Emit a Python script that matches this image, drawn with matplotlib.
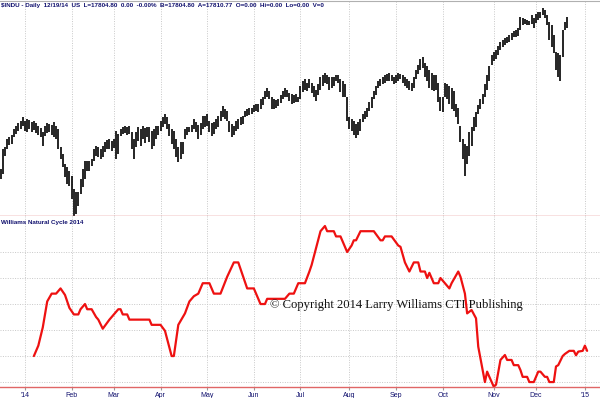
import matplotlib
matplotlib.use('Agg')
import matplotlib.pyplot as plt
import numpy as np
import pandas as pd

# ---------------- data ----------------
holidays = ['2013-12-25', '2014-01-01', '2014-01-20', '2014-02-17', '2014-04-18',
            '2014-05-26', '2014-07-04', '2014-09-01', '2014-11-27', '2014-12-25',
            '2015-01-01']

highs = [15930,16190,16215,16315,16340,16365,16440,16480,16520,16545,16595,
         16545,16570,16555,16530,16545,16520,16480,16455,16405,16480,
         16520,16505,16495,16530,16480,16440,16215,16125,15995,15960,
         15910,15845,15680,15640,15640,15805,15935,16035,16035,16035,
         16060,16190,16225,16215,16190,16225,16275,16300,16315,16290,
         16315,16415,16380,16440,16470,16480,16470,16480,16405,16315,
         16405,16470,16440,16480,16455,16470,16470,16415,16440,16480,
         16480,16545,16595,16635,16595,16505,16440,16415,16315,16215,
         16275,16275,16440,16470,16470,16495,16570,16530,16495,16520,
         16610,16610,16635,16545,16520,16530,16570,16610,16670,16735,
         16695,16670,16545,16505,16480,16545,16570,16595,16610,16670,
         16695,16710,16720,16750,16760,16760,16825,16860,16925,16975,
         16925,16850,16825,16810,16825,16875,16925,16975,16950,16910,
         16890,16875,16890,16860,16990,17055,17080,17030,17080,17030,
         16990,16950,17015,17105,17130,17165,17140,17115,17105,17115,
         17140,17130,17080,17055,17015,16860,16595,16570,16545,16505,
         16530,16570,16635,16670,16720,16785,16850,16925,16990,17055,
         17090,17115,17140,17155,17165,17140,17115,17130,17165,17155,
         17140,17105,17090,17055,17040,17105,17205,17270,17335,17360,
         17295,17245,17205,17165,17140,17130,17040,16860,16850,17040,
         17015,17000,16975,16925,16760,16720,16480,16315,16250,16225,
         16405,16470,16595,16660,16750,16825,16890,17015,17140,17245,
         17395,17435,17460,17510,17560,17590,17615,17625,17650,17675,
         17700,17715,17740,17880,17865,17855,17840,17830,17905,17865,
         17920,17945,17945,17995,17970,17905,17815,17780,17650,17435,
         17420,17395,17715,17815,17880]

lows = [15800,15870,16100,16190,16240,16250,16340,16380,16420,16440,16480,
        16420,16405,16440,16405,16430,16390,16365,16340,16225,16355,
        16390,16405,16365,16340,16315,16190,16060,15960,15830,15745,
        15720,15550,15335,15360,15465,15615,15705,15805,15905,15910,
        15970,16035,16100,16085,16060,16085,16150,16190,16190,16160,
        16200,16060,16125,16355,16380,16395,16365,16380,16190,16060,
        16215,16290,16225,16315,16265,16340,16275,16190,16225,16315,
        16365,16420,16465,16505,16440,16355,16250,16190,16085,16025,
        16060,16125,16315,16365,16405,16405,16440,16405,16315,16365,
        16440,16465,16480,16405,16355,16380,16440,16465,16545,16595,
        16570,16545,16405,16340,16365,16420,16440,16490,16505,16595,
        16610,16620,16635,16660,16670,16660,16695,16750,16825,16860,
        16825,16695,16695,16720,16735,16775,16825,16860,16850,16800,
        16760,16775,16785,16785,16825,16915,16950,16925,16975,16900,
        16860,16800,16875,16950,16990,17040,17015,16950,16975,16990,
        17055,17030,16915,16860,16850,16545,16440,16415,16365,16330,
        16365,16415,16530,16570,16595,16670,16720,16825,16875,16975,
        17000,17015,17040,17055,17065,17055,17015,17030,17055,17080,
        17030,16990,16975,16950,16925,16975,17080,17155,17205,17230,
        17105,17055,16975,16950,16925,16950,16785,16670,16660,16860,
        16825,16760,16695,16670,16595,16505,16275,16060,15845,15995,
        16100,16225,16415,16465,16635,16695,16760,16860,16950,17055,
        17270,17310,17335,17395,17460,17500,17525,17550,17560,17585,
        17625,17625,17640,17715,17780,17790,17780,17780,17790,17740,
        17805,17840,17865,17905,17865,17780,17585,17500,17420,17205,
        17115,17055,17360,17715,17740]

# Williams Natural Cycle: (trading-day number, value)
cycle_day = [15, 17, 19, 21, 23, 25, 27, 29, 31, 33, 35, 36, 38, 39, 41, 43, 44, 46, 49, 51,
             53, 54, 55, 57, 58, 67, 68, 72, 74, 77, 78, 80, 83, 85, 87, 89, 91, 94, 96, 99,
             102, 105, 107, 111, 114, 117, 119, 120, 128, 130, 132, 134, 137, 139, 140, 142,
             144, 146, 147, 150, 151, 153, 156, 158, 159, 160, 162, 168, 171, 172, 173, 176,
             179, 180, 182, 184, 186, 188, 189, 191, 192, 193, 195, 197, 198, 200, 202, 203,
             206, 207, 209, 210, 212, 214, 215, 218, 219, 220, 222, 223, 225, 227, 228, 230,
             231, 233, 234, 235, 237, 238, 240, 242, 243, 245, 246, 247, 249, 250, 251, 253,
             254, 256, 258, 259, 260, 262, 263, 264]
cycle_value = [1.0, 1.4, 2.1, 3.1, 3.4, 3.4, 3.6, 3.35, 2.85, 2.6, 2.6, 2.8, 3.0, 2.8, 2.8, 2.5,
               2.4, 2.05, 2.4, 2.6, 2.8, 2.8, 2.6, 2.6, 2.4, 2.4, 2.2, 2.2, 1.97, 1.0, 1.0, 2.2,
               2.64, 3.1, 3.3, 3.4, 3.8, 3.8, 3.4, 3.4, 4.05, 4.6, 4.6, 3.6, 3.6, 3.0, 3.0, 3.2,
               3.2, 3.4, 3.4, 3.8, 3.8, 4.25, 4.5, 5.15, 5.8, 6.0, 5.8, 5.8, 5.6, 5.6, 5.0, 5.25,
               5.45, 5.45, 5.8, 5.8, 5.45, 5.45, 5.6, 5.6, 5.25, 5.2, 4.6, 4.25, 4.6, 4.6, 4.25,
               4.25, 4.0, 4.2, 3.8, 3.8, 4.0, 3.8, 3.6, 3.8, 4.25, 4.05, 3.4, 2.64, 2.77, 2.45,
               1.36, 0.0, 0.4, 0.2, -0.18, -0.1, 0.85, 1.04, 0.85, 0.85, 0.65, 0.65, 0.46, 0.2,
               0.2, 0.0, 0.0, 0.4, 0.4, 0.2, 0.2, 0.0, 0.0, 0.6, 0.65, 1.0, 1.08, 1.2, 1.2, 1.03,
               1.17, 1.2, 1.4, 1.2]

month_labels = ["'14", "Feb", "Mar", "Apr", "May", "Jun", "Jul", "Aug", "Sep", "Oct",
                "Nov", "Dec", "'15"]
cycle_grid = [0, 1, 2, 3, 4, 5]

header = ("$INDU - Daily  12/19/14  US  L=17804.80  0.00  -0.00%  B=17804.80  "
          "A=17810.77  O=0.00  Hi=0.00  Lo=0.00  V=0")
panel_title = "Williams Natural Cycle 2014"
copyright_text = "\u00a9 Copyright 2014 Larry Williams CTI Publishing"

# ---------------- calendar ----------------
dates = pd.bdate_range('2013-12-16', '2015-01-09')
dates = dates[~dates.isin(pd.to_datetime(holidays))]
idx = pd.Series(np.arange(len(dates)), index=dates)
idx14 = idx[idx.index >= '2014-01-01']
firsts = idx14.groupby([idx14.index.year, idx14.index.month]).first()
month_ticks = list(firsts.values)[:len(month_labels)]

# ---------------- figure ----------------
W, H = 600, 398
SEP = 215.5      # pixel row of the panel separator
BOT = 387.0      # pixel row of the lower panel bottom
fig = plt.figure(figsize=(W / 100, H / 100), dpi=100)
fig.patch.set_facecolor('white')
ax1 = fig.add_axes([0, 1 - SEP / H, 1, (SEP - 1) / H])
ax2 = fig.add_axes([0, 1 - BOT / H, 1, (BOT - SEP) / H])

navy = '#10106e'
grid_kw = dict(color='#c8c8c8', lw=0.7, ls=(0, (1, 1.5)))

xl = (-0.25, 269.8)

# price bars
xb = np.arange(len(highs))
ax1.vlines(xb, lows, highs, color='#000000', lw=1.2)
ax1.set_xlim(*xl)
ax1.set_ylim(15338, 18083)
ax1.set_xticks(month_ticks)
ax1.set_yticks([])
ax1.tick_params(axis='x', length=0, labelbottom=False)
ax1.grid(axis='x', **grid_kw)
ax1.set_axisbelow(True)
for s in ['left', 'right']:
    ax1.spines[s].set_visible(False)
ax1.spines['top'].set_color('#b0b0b0')
ax1.spines['top'].set_linewidth(0.8)
ax1.spines['bottom'].set_color('#e06666')
ax1.spines['bottom'].set_linewidth(1.0)

# cycle line
ax2.plot(cycle_day, cycle_value, color='#ee1111', lw=1.6, solid_joinstyle='round',
         solid_capstyle='round')
ax2.set_xlim(*xl)
ax2.set_ylim(-0.19, (382 - SEP) / 26)
ax2.set_yticks(cycle_grid)
ax2.set_xticks(month_ticks)
ax2.set_xticklabels(month_labels, fontsize=5, color=navy, family='Liberation Sans')
ax2.tick_params(axis='x', length=2, color='#999999', pad=1.5)
ax2.tick_params(axis='y', length=0, labelleft=False)
ax2.grid(axis='both', **grid_kw)
ax2.set_axisbelow(True)
for s in ['left', 'right', 'top']:
    ax2.spines[s].set_visible(False)
ax2.spines['bottom'].set_color('#e06666')
ax2.spines['bottom'].set_linewidth(1.0)

fig.text(1 / W, 1 - 5 / H, header, fontsize=4.5, fontweight='bold', color=navy,
         family='Liberation Sans', ha='left', va='center')
ax2.text(0.001, 1 - (222 - SEP) / (BOT - SEP), panel_title, transform=ax2.transAxes,
         fontsize=4.5, fontweight='bold', color=navy, family='Liberation Sans',
         ha='left', va='center')
ax2.text(270 / W, 1 - (305 - SEP) / (BOT - SEP), copyright_text, transform=ax2.transAxes,
         fontsize=9.1, color='#111111', family='Liberation Serif', ha='left', va='center')

fig.savefig('out.png', dpi=100, facecolor='white')
